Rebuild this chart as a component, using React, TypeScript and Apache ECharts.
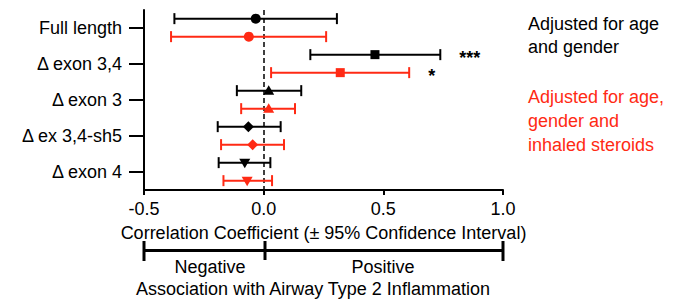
import React, { useEffect, useRef } from "react";
import * as echarts from "echarts";

const categories = ["Full length", "Δ exon 3,4", "Δ exon 3", "Δ ex 3,4-sh5", "Δ exon 4"];
const markerShapes = ["circle", "square", "triangle", "diamond", "triangleDown"];

const ageGenderEst = [-0.033, 0.465, 0.021, -0.064, -0.079];
const ageGenderLow = [-0.373, 0.195, -0.112, -0.192, -0.188];
const ageGenderHigh = [0.306, 0.738, 0.157, 0.071, 0.028];
const ageGenderSig = ["", "***", "", "", ""];

const steroidEst = [-0.062, 0.32, 0.021, -0.046, -0.069];
const steroidLow = [-0.387, 0.031, -0.094, -0.178, -0.168];
const steroidHigh = [0.261, 0.608, 0.131, 0.085, 0.035];
const steroidSig = ["", "*", "", "", ""];

const xTicks = [-0.5, 0.0, 0.5, 1.0];

const FONT = "'Liberation Sans', Arial, Helvetica, sans-serif";
const FS = 18;
const BLACK = "#000000";
const RED = "#ff2a14";

function markerShape(kind: string, x: number, y: number, color: string) {
  const style = { fill: color, stroke: color, lineWidth: 0 };
  switch (kind) {
    case "circle":
      return { type: "circle", shape: { cx: x, cy: y, r: 5 }, style };
    case "square":
      return { type: "rect", shape: { x: x - 4.5, y: y - 4.5, width: 9, height: 9 }, style };
    case "triangle":
      return { type: "polygon", shape: { points: [[x, y - 5.5], [x + 5.5, y + 4], [x - 5.5, y + 4]] }, style };
    case "diamond":
      return { type: "polygon", shape: { points: [[x, y - 5.5], [x + 5.5, y], [x, y + 5.5], [x - 5.5, y]] }, style };
    default:
      return { type: "polygon", shape: { points: [[x - 5.5, y - 4], [x + 5.5, y - 4], [x, y + 5.5]] }, style };
  }
}

function makeSeries(
  name: string,
  color: string,
  low: number[],
  est: number[],
  high: number[],
  sig: string[],
  offsetFrac: number
) {
  const data = categories.map((_, i) => [i, low[i], est[i], high[i]]);
  return {
    type: "custom",
    name,
    data,
    encode: { x: [1, 2, 3], y: 0 },
    z: 5,
    renderItem: (params: any, api: any) => {
      const i = params.dataIndex;
      const cat = api.value(0);
      const band = api.size([0, 1])[1];
      const dy = band * offsetFrac;
      const pl = api.coord([api.value(1), cat]);
      const pe = api.coord([api.value(2), cat]);
      const ph = api.coord([api.value(3), cat]);
      const y = pe[1] + dy;
      const cap = 5.5;
      const ls = { stroke: color, lineWidth: 2 };
      const children: any[] = [
        { type: "line", shape: { x1: pl[0], y1: y, x2: ph[0], y2: y }, style: ls },
        { type: "line", shape: { x1: pl[0], y1: y - cap, x2: pl[0], y2: y + cap }, style: ls },
        { type: "line", shape: { x1: ph[0], y1: y - cap, x2: ph[0], y2: y + cap }, style: ls },
        markerShape(markerShapes[i], pe[0], y, color),
      ];
      if (sig[i]) {
        children.push({
          type: "text",
          style: {
            text: sig[i],
            x: ph[0] + 19,
            y: y + 3,
            fill: BLACK,
            font: `bold ${FS}px ${FONT}`,
            align: "left",
            verticalAlign: "middle",
          },
        });
      }
      return { type: "group", children };
    },
  };
}

export default function App() {
  const ref = useRef<HTMLDivElement>(null);

  useEffect(() => {
    document.body.style.margin = "0";
    if (!ref.current) return;
    const chart = echarts.init(ref.current, null, { renderer: "svg" });
    const textStyle = { fontFamily: FONT, fontSize: FS, color: BLACK };
    chart.setOption({
      animation: false,
      backgroundColor: "#ffffff",
      textStyle: { fontFamily: FONT },
      grid: { left: 144, right: 172, top: 10, bottom: 111, containLabel: false },
      xAxis: {
        type: "value",
        min: -0.5,
        max: 1.0,
        interval: 0.5,
        splitLine: { show: false },
        axisLine: { show: true, onZero: false, lineStyle: { color: BLACK, width: 2, opacity: 1 } },
        axisTick: { show: true, length: 5, lineStyle: { color: BLACK, width: 2, opacity: 1 } },
        axisLabel: {
          ...textStyle,
          margin: 10,
          formatter: (v: number) => {
            const t = xTicks.find((x) => Math.abs(x - v) < 1e-9);
            return t === undefined ? "" : t.toFixed(1);
          },
        },
        name: "Correlation Coefficient (± 95% Confidence Interval)",
        nameLocation: "middle",
        nameGap: 34,
        nameTextStyle: { ...textStyle },
      },
      yAxis: {
        type: "category",
        data: categories,
        inverse: true,
        boundaryGap: true,
        axisLine: { show: true, onZero: false, lineStyle: { color: BLACK, width: 2, opacity: 1 } },
        axisTick: { show: true, alignWithLabel: true, length: 15, lineStyle: { color: BLACK, width: 2, opacity: 1 } },
        axisLabel: { ...textStyle, margin: 22 },
        splitLine: { show: false },
      },
      series: [
        {
          ...makeSeries("Adjusted for age and gender", BLACK, ageGenderLow, ageGenderEst, ageGenderHigh, ageGenderSig, -0.26),
          markLine: {
            silent: true,
            symbol: "none",
            label: { show: false },
            lineStyle: { color: BLACK, type: [5, 3], width: 1.5 },
            data: [{ xAxis: 0 }],
          },
        },
        makeSeries(
          "Adjusted for age, gender and inhaled steroids",
          RED,
          steroidLow,
          steroidEst,
          steroidHigh,
          steroidSig,
          0.24
        ),
      ],
      graphic: [
        {
          type: "text",
          left: 528,
          top: 12,
          style: {
            text: "Adjusted for age\nand gender",
            fill: BLACK,
            font: `${FS}px ${FONT}`,
            lineHeight: 23,
          },
        },
        {
          type: "text",
          left: 528,
          top: 85,
          style: {
            text: "Adjusted for age,\ngender and\ninhaled steroids",
            fill: RED,
            font: `${FS}px ${FONT}`,
            lineHeight: 24,
          },
        },
        { type: "line", shape: { x1: 144, y1: 250.5, x2: 503, y2: 250.5 }, style: { stroke: BLACK, lineWidth: 3 } },
        { type: "line", shape: { x1: 144, y1: 241, x2: 144, y2: 261 }, style: { stroke: BLACK, lineWidth: 3 } },
        { type: "line", shape: { x1: 265, y1: 241, x2: 265, y2: 260 }, style: { stroke: BLACK, lineWidth: 3 } },
        { type: "line", shape: { x1: 503, y1: 241, x2: 503, y2: 261 }, style: { stroke: BLACK, lineWidth: 3 } },
        {
          type: "text",
          x: 210,
          y: 267,
          style: { text: "Negative", fill: BLACK, font: `${FS}px ${FONT}`, align: "center", verticalAlign: "middle" },
        },
        {
          type: "text",
          x: 383,
          y: 267,
          style: { text: "Positive", fill: BLACK, font: `${FS}px ${FONT}`, align: "center", verticalAlign: "middle" },
        },
        {
          type: "text",
          x: 313,
          y: 289,
          style: {
            text: "Association with Airway Type 2 Inflammation",
            fill: BLACK,
            font: `${FS}px ${FONT}`,
            align: "center",
            verticalAlign: "middle",
          },
        },
      ],
    });
    return () => chart.dispose();
  }, []);

  return <div ref={ref} style={{ width: 675, height: 301 }} />;
}
